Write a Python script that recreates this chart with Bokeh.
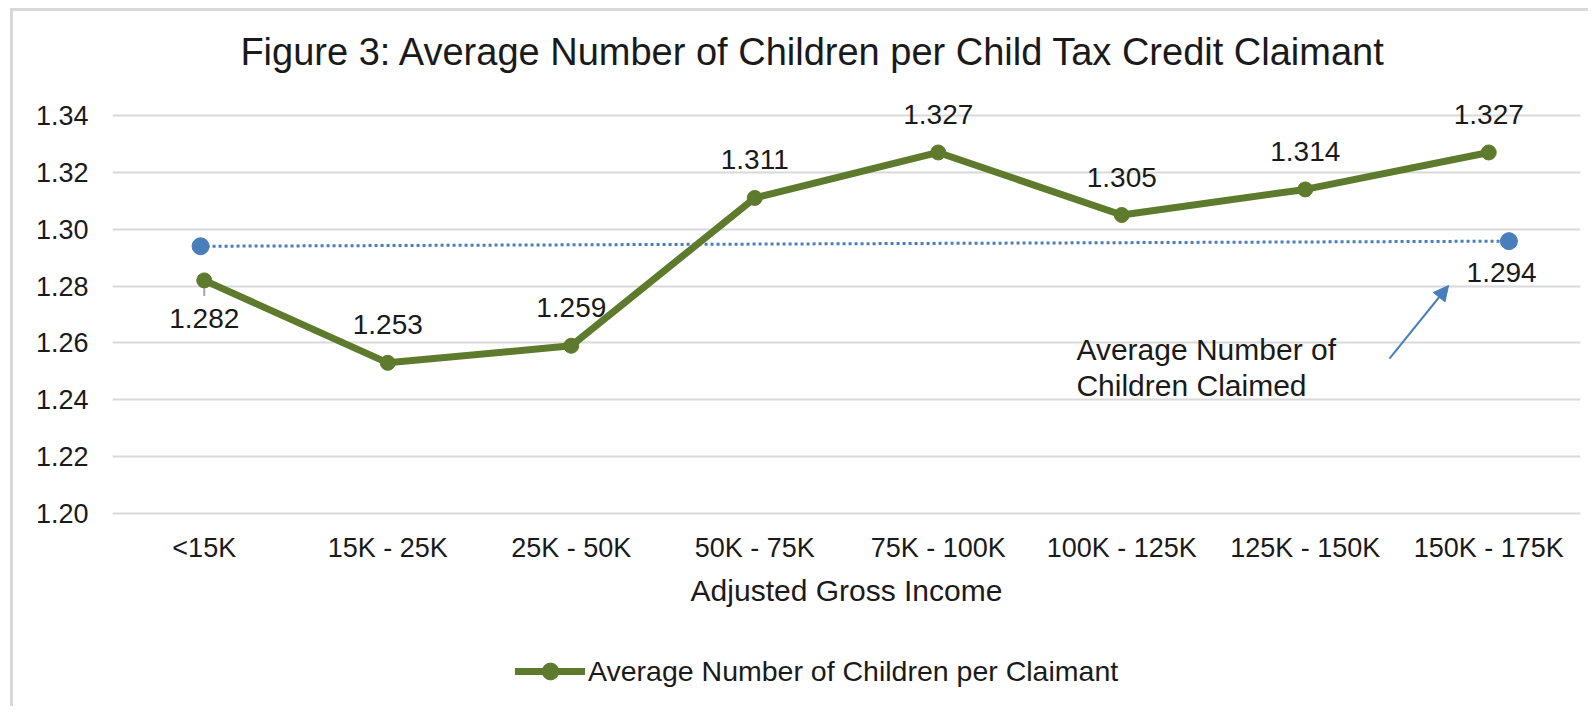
from bokeh.plotting import figure
from bokeh.models import (FixedTicker, NumeralTickFormatter, Range1d, Label, LabelSet,
                          ColumnDataSource, Legend, LegendItem, Arrow, NormalHead)
from bokeh.core.properties import value
from bokeh.embed import file_html
from bokeh.resources import INLINE

# ---------------- data ----------------
categories = ["<15K", "15K - 25K", "25K - 50K", "50K - 75K", "75K - 100K",
              "100K - 125K", "125K - 150K", "150K - 175K"]
avg_children = [1.282, 1.253, 1.259, 1.311, 1.327, 1.305, 1.314, 1.327]
avg_claimed_x = [-0.02, 7.11]          # secondary-axis positions of the average line
avg_claimed = [1.2940, 1.2958]
avg_claimed_label = "1.294"
y_ticks = [1.20, 1.22, 1.24, 1.26, 1.28, 1.30, 1.32, 1.34]
title_text = "Figure 3: Average Number of Children per Child Tax Credit Claimant"
x_label = "Adjusted Gross Income"
series_name = "Average Number of Children per Claimant"
note_lines = ["Average Number of", "Children Claimed"]

# ---------------- style / layout ----------------
FONT = "Liberation Sans"
GREEN = "#5E7B2D"
BLUE = "#4A7EBB"
GRID = "#D9D9D9"
TXT = "#1A1A1A"

W, H = 1578, 698
PX = 0.14 / 398                     # y value per screen pixel
Y0 = y_ticks[0] - 196 * PX           # frame extends below the 1.20 gridline
Y1 = y_ticks[-1] + 104 * PX          # ... and above the 1.34 gridline

xs = list(range(len(categories)))

p = figure(width=W, height=H, output_backend="svg", toolbar_location=None,
           x_range=Range1d(-0.5, 7.5), y_range=Range1d(Y0, Y1),
           min_border_left=99, min_border_right=11, min_border_top=0,
           min_border_bottom=0)
p.styles = {"margin-top": "8px", "margin-left": "10px",
            "border-top": "3px solid #D9D9D9", "border-left": "3px solid #D9D9D9"}
p.outline_line_color = None
p.background_fill_color = "white"
p.border_fill_color = "white"

# y axis
p.yaxis.ticker = FixedTicker(ticks=y_ticks)
p.yaxis.formatter = NumeralTickFormatter(format="0.00")
p.yaxis.axis_line_color = None
p.yaxis.major_tick_line_color = None
p.yaxis.minor_tick_line_color = None
p.yaxis.major_tick_out = 0
p.yaxis.major_tick_in = 0
p.yaxis.major_label_text_font = FONT
p.yaxis.major_label_text_font_size = "27px"
p.yaxis.major_label_text_color = TXT
p.yaxis.major_label_standoff = 24
p.xaxis.visible = False

p.xgrid.grid_line_color = None
p.ygrid.grid_line_color = GRID
p.ygrid.grid_line_width = 2

# x category labels and axis title (drawn as text under the 1.20 gridline)
p.text(x=xs, y=[y_ticks[0]] * len(xs), text=categories, y_offset=34,
       text_align="center", text_baseline="middle", text_font=value(FONT),
       text_font_size="27px", text_color=TXT)
p.add_layout(Label(x=3.5, y=y_ticks[0], y_offset=-77, text=x_label,
                   text_align="center", text_baseline="middle", text_font=FONT,
                   text_font_size="30px", text_color=TXT))

# average line (dotted blue)
p.line(avg_claimed_x, avg_claimed, line_color=BLUE, line_width=3, line_dash="3 3")
p.scatter(avg_claimed_x, avg_claimed, size=17, fill_color=BLUE, line_color=BLUE)

# leader line for first label
p.segment(x0=[xs[0]], y0=[avg_children[0]], x1=[xs[0]], y1=[avg_children[0] - 0.0055],
          line_color="#A6A6A6", line_width=2)

# main series
src = ColumnDataSource(dict(x=xs, y=avg_children,
                            txt=[f"{v:.3f}" for v in avg_children],
                            dy=[-38] + [38] * (len(xs) - 1)))
line_r = p.line("x", "y", source=src, line_color=GREEN, line_width=7,
                line_cap="round", line_join="round")
pts_r = p.scatter("x", "y", source=src, size=15, fill_color=GREEN, line_color=GREEN)

p.add_layout(LabelSet(x="x", y="y", text="txt", source=src, y_offset="dy",
                      text_align="center", text_baseline="middle",
                      text_font=value(FONT), text_font_size="28px", text_color=TXT))

# title
p.add_layout(Label(x=3.32, y=y_ticks[-1], y_offset=64, text=title_text,
                   text_align="center", text_baseline="middle", text_font=FONT,
                   text_font_size="38px", text_color=TXT))

# average label + note + arrow
p.add_layout(Label(x=7.07, y=1.2848, text=avg_claimed_label, text_align="center",
                   text_baseline="middle", text_font=FONT, text_font_size="28px",
                   text_color=TXT))
for ly, t in zip([1.2577, 1.2450], note_lines):
    p.add_layout(Label(x=4.753, y=ly, text=t, text_align="left", text_baseline="middle",
                       text_font=FONT, text_font_size="30px", text_color=TXT))
p.add_layout(Arrow(end=NormalHead(size=15, fill_color=BLUE, line_color=BLUE),
                   x_start=6.459, y_start=1.2545, x_end=6.781, y_end=1.2802,
                   line_color=BLUE, line_width=2))

# legend
legend = Legend(items=[LegendItem(label=series_name, renderers=[line_r, pts_r])],
                location=(403, 17), orientation="horizontal", glyph_width=70,
                glyph_height=42, label_standoff=3, padding=0, margin=0,
                border_line_color=None, background_fill_alpha=0,
                label_text_font=FONT, label_text_font_size="28.5px",
                label_text_color=TXT)
p.add_layout(legend, "center")

open("out.html", "w").write(file_html(p, INLINE))
